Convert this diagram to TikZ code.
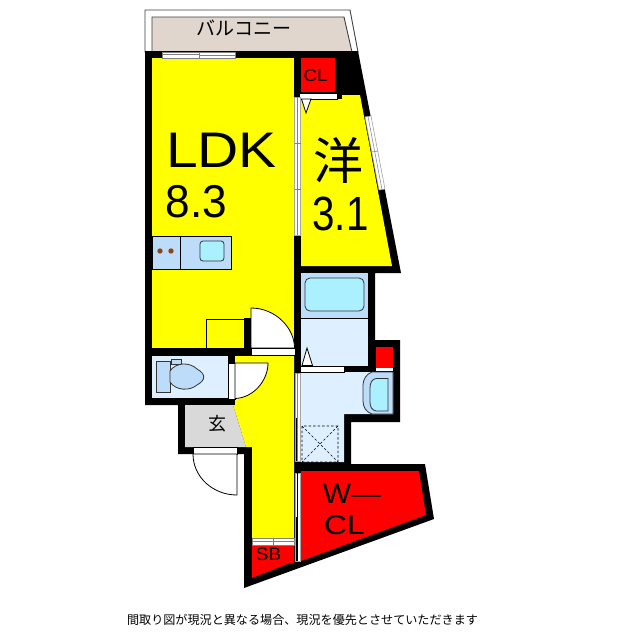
\documentclass[tikz,border=0pt]{standalone}
\usepackage{fontspec}
\setmainfont{Liberation Sans}
\newfontfamily\cjk{Noto Sans CJK JP}
\definecolor{balc}{RGB}{224,214,206}
\definecolor{lblue}{RGB}{222,240,255}
\definecolor{mblue}{RGB}{188,220,250}
\definecolor{cyanc}{RGB}{170,240,255}
\definecolor{genk}{RGB}{217,217,217}
\definecolor{burn}{RGB}{140,70,20}
\definecolor{yelc}{RGB}{255,255,0}
\definecolor{redc}{RGB}{255,0,0}
\tikzset{
 thin line/.style={draw=black,line width=0.8pt},
 strip/.style={fill=white,draw=gray!70,line width=0.6pt},
 doorleaf/.style={fill=white,draw=black,line width=0.8pt},
 fixture/.style={draw=black!80,line width=0.8pt},
 lbl/.style={inner sep=0pt,text=black}
}
\begin{document}
\begin{tikzpicture}[x=1pt,y=-1pt]
\useasboundingbox (0,0) rectangle (640,640);
\fill[white] (0,0) rectangle (640,640);
% balcony
\draw[line width=0.9pt,draw=black!75,fill=white] (145,10)--(350,10)--(358,52)--(145,52)--cycle;
\draw[line width=0.9pt,draw=black!75,fill=balc] (152,17)--(344,17)--(352,52)--(152,52)--cycle;
% walls silhouette
\fill[black] (145,51)--(358,51)--(401,273)--(375,273)--(375,340)--(400,340)--(400,422)--(351,422)--(351,464)--(425,464)--(434,519)--(244,588)--(244,454)--(178,454)--(178,405)--(145,405)--cycle;
% LDK
\fill[yelc] (152,58)--(294,58)--(294,348)--(152,348)--cycle;
% bedroom
\fill[yelc] (301,99)--(342,99)--(342,95)--(360,95)--(392,266)--(301,266)--cycle;
% hall
\fill[yelc] (235,356)--(294,356)--(294,538)--(252,538)--(252,447)--(246,447)--(233,405)--(235,405)--cycle;
% CL
\fill[redc] (301,58) rectangle (335,92);
\fill[white] (299,93) rectangle (337,99);
\draw[black,line width=0.5pt] (299,93) rectangle (337,99);
% kitchen
\filldraw[fill=mblue,thin line] (152,236) rectangle (231,269);
\draw[thin line] (180,236)--(180,269);
\fill[burn] (160,251) circle (2.7) (171,251) circle (2.7);
\draw[fixture,fill=cyanc,rounded corners=3pt] (200,241) rectangle (224,261);
% LDK door nook
\draw[thin line] (206,348)--(206,319)--(244,319);
\fill[black] (244,318) rectangle (251,348);
\filldraw[doorleaf] (251,348)--(251,308) .. controls (275,308) and (294.5,327.5) .. (294.5,348)--cycle;
\filldraw[fill=white,draw=black,line width=0.5pt] (251,348) rectangle (295,355.5);
% toilet
\fill[lblue] (152,356) rectangle (228,398);
\filldraw[fill=mblue,fixture] (156,361) rectangle (170,392);
\filldraw[fill=mblue,fixture] (171,359) rectangle (181,364);
\filldraw[fill=mblue,fixture] (170,371) .. controls (176,362) and (190,362) .. (197,369) .. controls (206,374) and (206,380) .. (197,385) .. controls (190,391) and (176,391) .. (170,382) -- cycle;
\filldraw[fill=white,draw=black,line width=0.5pt] (228,363) rectangle (235,399);
\filldraw[doorleaf] (235,363)--(268,363) .. controls (268,381) and (253,398) .. (235,398.5)--cycle;
% genkan
\fill[genk] (185,405)--(233,405)--(246,447)--(185,447)--cycle;
\fill[white] (193,447) rectangle (237,454);
\draw[black,line width=0.5pt] (193,447) rectangle (237,454);
\filldraw[doorleaf] (237,454)--(193,454) .. controls (193,477) and (213,495) .. (237,495)--cycle;
% bath
\fill[mblue] (301,273) rectangle (368,318);
\draw[thin line] (301,318.5)--(368,318.5);
\fill[lblue] (301,319) rectangle (368,366);
\draw[fixture,fill=cyanc,rounded corners=5pt] (305,278) rectangle (364,311);
% wash room
\fill[lblue] (301,372)--(393,372)--(393,414)--(344,414)--(344,462)--(301,462)--cycle;
\fill[white] (300,366) rectangle (344,372);
\draw[black,line width=0.4pt] (300,366) rectangle (344,372);
\filldraw[doorleaf] (302,365.5)--(307,348)--(312.5,365.5)--cycle;
\fill[redc] (376,347) rectangle (393,368);
\fill[white] (376,368) rectangle (393,370.5);
\filldraw[fill=mblue,fixture] (393,372)--(372,372) .. controls (366,374) and (363,380) .. (363,385)--(363,401) .. controls (363,407) and (366,412) .. (372,414)--(393,414)--cycle;
\filldraw[fill=cyanc,fixture] (388,378.5)--(376,378.5) .. controls (372,379) and (370,383) .. (370,388)--(370,402) .. controls (370,407) and (372,410) .. (376,411)--(388,411)--cycle;
\draw[black,line width=0.6pt,dash pattern=on 2.5pt off 2pt] (302,426) rectangle (338,462) (302,426)--(338,462) (338,426)--(302,462);
% sliding strips in the central wall
\filldraw[strip] (294.5,97) rectangle (300.5,235);
\draw[gray,line width=0.5pt] (297.5,97)--(297.5,235) (294.5,143)--(300.5,143) (294.5,189)--(300.5,189);
\filldraw[strip] (295,373) rectangle (300.5,461);
\draw[gray,line width=0.5pt] (297.5,373)--(297.5,461);
\draw[black,line width=1pt] (296,418)--(296,461);
\filldraw[strip] (295,473) rectangle (300.5,561);
\draw[black,line width=0.6pt] (297.5,473)--(297.5,561);
\draw[black,line width=1pt] (296,517)--(296,561);
% window top
\fill[white] (162,52) rectangle (235,58);
\draw[gray,line width=0.6pt] (162,52) rectangle (235,58) (162,54.5)--(199,54.5) (199,55.5)--(235,55.5) (199,52)--(199,58);
% window right
\filldraw[strip] (365,117)--(371,116)--(385,189)--(379,190)--cycle;
\draw[gray,line width=0.5pt] (368,116.5)--(382,189.5) (372,152)--(378,151);
% W-CL
\fill[redc] (301,471)--(419,471)--(426,515)--(301,561)--cycle;
% SB
\fill[redc] (252,546)--(294,546)--(294,563)--(290,563)--(252,578)--cycle;
\fill[white] (252,538) rectangle (294,545);
\draw[gray,line width=0.6pt] (252,538) rectangle (294,545) (252,541.5)--(294,541.5) (273,538)--(273,545);
\filldraw[doorleaf] (301.5,99)--(306,113)--(311,99)--cycle;
% labels
\node[lbl,font=\cjk\fontsize{19}{20}\selectfont] (balc) at (244,28) {バルコニー};
\node[lbl,font=\fontsize{17}{20}\selectfont] (clA) at (315.5,76) {\scalebox{1.1}[1]{CL}};
\node[lbl,font=\fontsize{50}{50}\selectfont] (ldk) at (221.5,150) {\scalebox{1.14}[1]{LDK}};
\node[lbl,font=\fontsize{46}{46}\selectfont] (ldkn) at (196.5,202) {\scalebox{0.96}[1]{8.3}};
\node[lbl,font=\cjk\fontsize{50}{50}\selectfont] (yo) at (338,160) {洋};
\node[lbl,font=\fontsize{48}{48}\selectfont] (yon) at (340.5,214) {\scalebox{0.84}[1]{3.1}};
\node[lbl,font=\cjk\fontsize{18}{18}\selectfont] (gen) at (217,424) {玄};
\node[lbl,font=\fontsize{28}{28}\selectfont] (wcla) at (352,494) {\scalebox{1.07}[1]{W—}};
\node[lbl,font=\fontsize{27}{27}\selectfont] (wclb) at (344.5,525) {\scalebox{1.18}[1]{CL}};
\node[lbl,font=\fontsize{18}{18}\selectfont] (sb) at (268.5,554) {\scalebox{1.05}[1]{SB}};
\node[lbl,font=\cjk\fontsize{12.1}{14}\selectfont] (note) at (302.5,620) {間取り図が現況と異なる場合、現況を優先とさせていただきます};
\end{tikzpicture}
\end{document}
